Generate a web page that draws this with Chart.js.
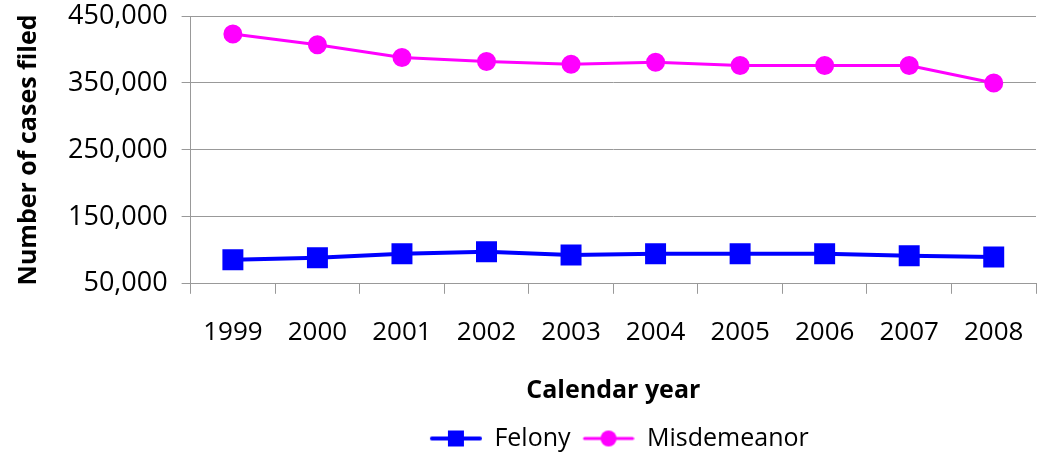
<!DOCTYPE html>
<html>
<head>
<meta charset="utf-8">
<script src="https://cdn.jsdelivr.net/npm/chart.js@4/dist/chart.umd.min.js"></script>
<style>
  html, body { margin: 0; padding: 0; background: #fff; overflow: hidden; }
  #wrap { width: 1052px; height: 461px; position: relative; }
  canvas { display: block; }
</style>
</head>
<body>
<div id="wrap"><canvas id="lineChart"></canvas></div>
<script>
// Data
const years = ['1999', '2000', '2001', '2002', '2003', '2004', '2005', '2006', '2007', '2008'];
const felony = [86000, 89000, 95000, 98000, 93000, 95000, 95000, 95000, 92000, 90000];
const misdemeanor = [423000, 407000, 388000, 382000, 378000, 381000, 376000, 376000, 376000, 350000];
const yTicks = [50000, 150000, 250000, 350000, 450000];

const FONT = '"Open Sans", "Liberation Sans", sans-serif';

// legend icon: short line with the marker in the middle (blank space on the left as item gap)
function legendIcon(color, shape) {
    const c = document.createElement('canvas');
    c.width = 64; c.height = 20;
    const g = c.getContext('2d');
    g.strokeStyle = color;
    g.lineWidth = shape === 'rect' ? 4 : 3;
    g.lineCap = 'round';
    g.beginPath(); g.moveTo(14, 10); g.lineTo(62, 10); g.stroke();
    g.fillStyle = color;
    if (shape === 'rect') {
        g.fillRect(30, 2, 16, 16);
    } else {
        g.beginPath(); g.arc(38, 10, 8, 0, Math.PI * 2); g.fill();
    }
    return c;
}

const ctx = document.getElementById('lineChart').getContext('2d');
new Chart(ctx, {
    type: 'line',
    data: {
        labels: years,
        datasets: [{
            label: 'Felony',
            data: felony,
            borderColor: '#0000ff',
            backgroundColor: '#0000ff',
            borderWidth: 4,
            pointStyle: 'rect',
            pointRadius: 12,
            pointHoverRadius: 12,
            tension: 0
        }, {
            label: 'Misdemeanor',
            data: misdemeanor,
            borderColor: '#ff00ff',
            backgroundColor: '#ff00ff',
            borderWidth: 3,
            pointStyle: 'circle',
            pointRadius: 8,
            pointHoverRadius: 8,
            tension: 0
        }]
    },
    options: {
        responsive: true,
        maintainAspectRatio: false,
        animation: false,
        layout: { padding: { left: 14, right: 1, top: 2, bottom: 0 } },
        plugins: {
            tooltip: { enabled: false },
            legend: {
                position: 'bottom',
                fullSize: false,
                labels: {
                    color: '#000',
                    font: { family: FONT, size: 25 },
                    usePointStyle: true,
                    pointStyleWidth: 64,
                    boxHeight: 20,
                    padding: 0,
                    generateLabels: (chart) => chart.data.datasets.map((ds, i) => ({
                        text: ds.label,
                        fontColor: '#000',
                        pointStyle: legendIcon(ds.borderColor, ds.pointStyle),
                        datasetIndex: i,
                        hidden: false
                    }))
                }
            }
        },
        scales: {
            x: {
                offset: true,
                grid: {
                    offset: true,
                    drawOnChartArea: false,
                    drawTicks: true,
                    tickLength: 10,
                    color: '#999'
                },
                border: { color: '#999' },
                ticks: {
                    color: '#000',
                    font: { family: FONT, size: 26 },
                    padding: 23,
                    maxRotation: 0
                },
                title: {
                    display: true,
                    text: 'Calendar year',
                    color: '#000',
                    font: { family: FONT, size: 25, weight: 'bold' },
                    padding: { top: 5, bottom: 20 }
                }
            },
            y: {
                min: 50000,
                max: 450000,
                afterBuildTicks: (axis) => { axis.ticks = yTicks.map(v => ({ value: v })); },
                grid: {
                    color: '#999',
                    tickLength: 9
                },
                border: { color: '#999' },
                ticks: {
                    color: '#000',
                    font: { family: FONT, size: 27, lineHeight: 0.1 },
                    padding: 14,
                    callback: (v) => v.toLocaleString('en-US')
                },
                title: {
                    display: true,
                    text: 'Number of cases filed',
                    color: '#000',
                    font: { family: FONT, size: 25, weight: 'bold' },
                    padding: { top: 0, bottom: 10 }
                }
            }
        }
    }
});
</script>
</body>
</html>
